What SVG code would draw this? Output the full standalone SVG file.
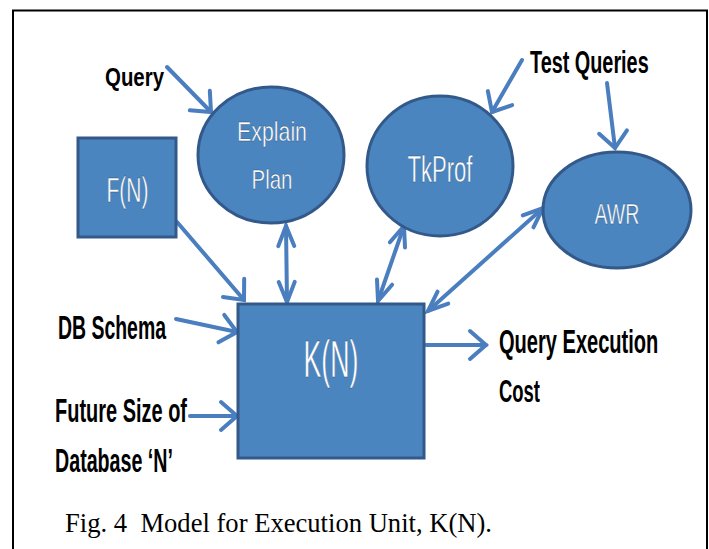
<svg xmlns="http://www.w3.org/2000/svg" width="709" height="549" viewBox="0 0 709 549">
<style>
.node{fill:#4a85bf;stroke:#33598a;stroke-width:3}
.nt{font-family:"Liberation Sans",Arial,sans-serif;fill:#ffffff;stroke:#2d4f78;stroke-width:0.4;text-anchor:middle}
.lbl{font-family:"Liberation Sans",Arial,sans-serif;font-weight:bold;fill:#000000}
.conn{fill:none;stroke:#4a7ebf;stroke-width:4;stroke-linecap:round}
.ah{fill:none;stroke:#4a7ebf;stroke-width:4;stroke-linecap:round;stroke-linejoin:miter}
</style>
<defs>
<marker id="arr" markerUnits="userSpaceOnUse" viewBox="-20 -16 24 32" refX="0" refY="0" markerWidth="24" markerHeight="32" orient="auto" overflow="visible">
<path class="ah" d="M-16,-14 L0,0 L-16,14"/>
</marker>
<marker id="arrS" markerUnits="userSpaceOnUse" viewBox="-24 -12 28 24" refX="0" refY="0" markerWidth="28" markerHeight="24" orient="auto" overflow="visible">
<path class="ah" d="M-20,-8 L0,0 L-20,8"/>
</marker>
<marker id="arrSs" markerUnits="userSpaceOnUse" viewBox="-24 -12 28 24" refX="0" refY="0" markerWidth="28" markerHeight="24" orient="auto-start-reverse" overflow="visible">
<path class="ah" d="M-20,-8 L0,0 L-20,8"/>
</marker>
</defs>
<rect x="13" y="10.5" width="694" height="560" fill="#ffffff" stroke="#000000" stroke-width="2"/>

<g id="connectors">
<line class="conn" x1="167" y1="67" x2="211" y2="112" marker-end="url(#arr)"/>
<line class="conn" x1="522" y1="60" x2="492" y2="112" marker-end="url(#arr)"/>
<line class="conn" x1="607" y1="83" x2="615" y2="148" marker-end="url(#arr)"/>
<line class="conn" x1="177" y1="222" x2="244" y2="300" marker-end="url(#arr)"/>
<line class="conn" x1="286" y1="226" x2="287" y2="302" marker-start="url(#arrSs)" marker-end="url(#arrS)"/>
<line class="conn" x1="404" y1="226" x2="378" y2="301" marker-start="url(#arrSs)" marker-end="url(#arrS)"/>
<line class="conn" x1="543" y1="208" x2="428" y2="311" marker-start="url(#arrSs)" marker-end="url(#arrS)"/>
<line class="conn" x1="176" y1="319" x2="237" y2="332" marker-end="url(#arr)"/>
<line class="conn" x1="190" y1="416" x2="237" y2="416" marker-end="url(#arr)"/>
<line class="conn" x1="426" y1="345" x2="486" y2="345" marker-end="url(#arr)"/>
</g>

<g id="node-fn">
<rect class="node" x="78" y="138" width="98" height="99"/>
<text class="nt" x="127.5" y="202" font-size="35" textLength="42" lengthAdjust="spacingAndGlyphs">F(N)</text>
</g>
<g id="node-explain">
<ellipse class="node" cx="271" cy="155" rx="73" ry="68"/>
<text class="nt" x="272" y="141" font-size="28" textLength="70" lengthAdjust="spacingAndGlyphs">Explain</text>
<text class="nt" x="272" y="189" font-size="28" textLength="41" lengthAdjust="spacingAndGlyphs">Plan</text>
</g>
<g id="node-tkprof">
<ellipse class="node" cx="440" cy="166" rx="73" ry="70"/>
<text class="nt" x="440" y="182" font-size="36" textLength="65" lengthAdjust="spacingAndGlyphs">TkProf</text>
</g>
<g id="node-awr">
<ellipse class="node" cx="617" cy="210" rx="74" ry="58"/>
<text class="nt" x="617" y="224" font-size="29" textLength="45" lengthAdjust="spacingAndGlyphs">AWR</text>
</g>
<g id="node-kn">
<rect class="node" x="238" y="304" width="186" height="154"/>
<text class="nt" x="331" y="377" font-size="51" textLength="55" lengthAdjust="spacingAndGlyphs">K(N)</text>
</g>

<g id="labels">
<text class="lbl" x="105" y="86" font-size="26" textLength="59" lengthAdjust="spacingAndGlyphs">Query</text>
<text class="lbl" transform="matrix(0.64 0 0 1 530 73)" font-size="31">Test Queries</text>
<text class="lbl" x="58" y="339" font-size="33" textLength="108" lengthAdjust="spacingAndGlyphs">DB Schema</text>
<text class="lbl" x="55" y="422" font-size="34" textLength="132" lengthAdjust="spacingAndGlyphs">Future Size of</text>
<text class="lbl" x="55" y="472" font-size="34" textLength="118" lengthAdjust="spacingAndGlyphs">Database ‘N’</text>
<text class="lbl" transform="matrix(0.59 0 0 1 499 353)" font-size="34">Query Execution</text>
<text class="lbl" x="499" y="402" font-size="32" textLength="41" lengthAdjust="spacingAndGlyphs">Cost</text>
</g>

<text x="65" y="532" font-family="'Liberation Serif','Times New Roman',serif" font-size="27" fill="#000000" textLength="427" lengthAdjust="spacingAndGlyphs">Fig. 4 &#160;Model for Execution Unit, K(N).</text>
</svg>
